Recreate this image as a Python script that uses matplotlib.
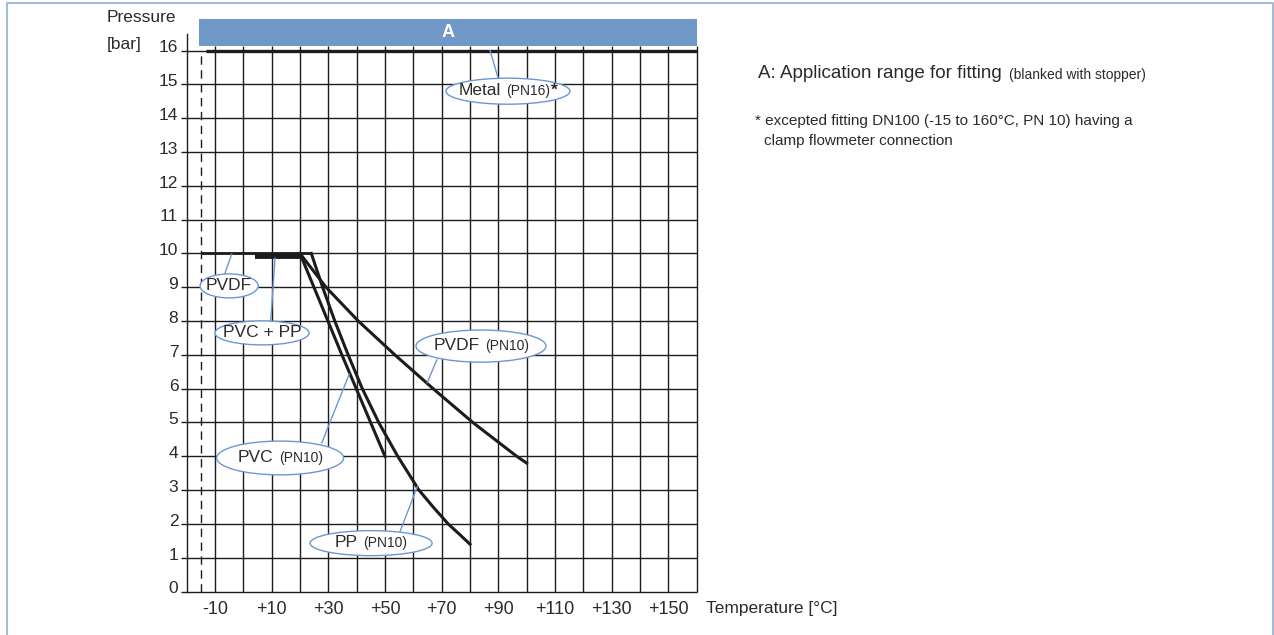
import numpy as np
import matplotlib
matplotlib.use("Agg")
import matplotlib.pyplot as plt
from matplotlib.patches import Ellipse, Rectangle
from matplotlib.offsetbox import TextArea, HPacker, AnnotationBbox
from matplotlib.lines import Line2D
from matplotlib.transforms import ScaledTranslation

plt.rcParams['font.family'] = ['Liberation Sans', 'DejaVu Sans']

# axis ticks
temp_ticks = [-10, 10, 30, 50, 70, 90, 110, 130, 150]
temp_tick_labels = ["-10", "+10", "+30", "+50", "+70", "+90", "+110", "+130", "+150"]
pressure_ticks = list(range(0, 17))
temp_grid = list(range(-10, 161, 10))

# curves (temperature degC, pressure bar)
pvdf_flat_t = [-15, 24]
pvdf_flat_p = [10, 10]
pvc_pp_flat_t = [4, 20]
pvc_pp_flat_p = [9.93, 9.93]
metal_t = [-13, 160]
metal_p = [16, 16]
pvc_t = [20, 34.8, 50]
pvc_p = [10, 7.0, 4.0]
pp_t = [24, 28, 32.3, 37, 42, 47.8, 54.5, 62, 67, 72.3, 76.2, 80]
pp_p = [10, 9, 8, 7, 6, 5, 4, 3, 2.5, 2, 1.7, 1.4]
pvdf_t = [20, 29.2, 40.6, 53.5, 67, 81, 96.5, 100]
pvdf_p = [10, 9, 8, 7, 6, 5, 4, 3.8]

# application range band A
band_t = [-15.5, 160]
band_p = [16.15, 16.93]

INK = "#1c1c1c"
TXT = "#2b2b2b"
BLUE = "#6b98cf"

fig = plt.figure(figsize=(12.74, 6.35), dpi=100)
ax = fig.add_axes([0.1465, 0.0685, 0.4003, 0.905])
ax.set_xlim(-20, 160)
ax.set_ylim(0, 17)

# grid
ax.vlines(temp_grid, 0, band_p[0], color=INK, lw=1.0, clip_on=False, zorder=1)
ax.hlines(pressure_ticks, -20, 160, color=INK, lw=1.0, clip_on=False, zorder=1)
ax.vlines([-15], 0, 16, color=INK, lw=1.0, linestyles=(0, (6, 4)), zorder=1)

for s in ['top', 'right', 'bottom']:
    ax.spines[s].set_visible(False)
ax.spines['left'].set_bounds(0, 16.5)
ax.spines['left'].set_color(INK)
ax.spines['left'].set_linewidth(1.0)

ax.set_yticks(pressure_ticks)
ax.set_yticklabels([str(p) for p in pressure_ticks])
ax.tick_params(axis='y', length=4, width=1.0, color=INK, pad=2, labelsize=12.5, labelcolor=TXT)
for lab in ax.get_yticklabels():
    lab.set_transform(lab.get_transform() + ScaledTranslation(0, 3 / 72, fig.dpi_scale_trans))
ax.set_xticks(temp_ticks)
ax.set_xticklabels(temp_tick_labels)
ax.tick_params(axis='x', length=0, pad=7, labelsize=13, labelcolor=TXT)

# band A
ax.add_patch(Rectangle((band_t[0], band_p[0]), band_t[1] - band_t[0], band_p[1] - band_p[0],
                       facecolor="#7199c7", edgecolor='none', clip_on=False, zorder=3))
ax.text(sum(band_t) / 2, sum(band_p) / 2, "A", color="white", fontsize=13, fontweight='bold',
        ha='center', va='center', clip_on=False, zorder=4)

# curves
line_kw = dict(color=INK, solid_joinstyle='round', zorder=3)
ax.plot(metal_t, metal_p, lw=2.4, solid_capstyle='butt', clip_on=False, **line_kw)
ax.plot(pvdf_flat_t, pvdf_flat_p, lw=2.0, solid_capstyle='butt', **line_kw)
ax.plot(pvc_pp_flat_t, pvc_pp_flat_p, lw=4.2, solid_capstyle='butt', **line_kw)
ax.plot(pvc_t, pvc_p, lw=2.2, **line_kw)
ax.plot(pp_t, pp_p, lw=2.2, **line_kw)
ax.plot(pvdf_t, pvdf_p, lw=2.2, **line_kw)


def txt(s, size=12.5, weight='normal'):
    return TextArea(s, textprops=dict(fontsize=size, color=TXT, fontweight=weight))


def label(xy, w, h, box, leader):
    ax.plot(leader[0], leader[1], color=BLUE, lw=1.0, zorder=5)
    ax.add_patch(Ellipse(xy, w, h, facecolor='white', edgecolor=BLUE, lw=1.0, zorder=6))
    ab = AnnotationBbox(box, xy, frameon=False, box_alignment=(0.5, 0.45), zorder=7)
    ax.add_artist(ab)


def pn(name, rating):
    return HPacker(children=[txt(name), txt(rating, 10)], align="baseline", pad=0, sep=4)


metal_box = HPacker(children=[txt("Metal"),
                              HPacker(children=[txt("(PN16)", 10), txt("*", 12.5, 'bold')],
                                      align="baseline", pad=0, sep=0)],
                    align="baseline", pad=0, sep=4)
label((93.4, 14.8), 43.8, 0.77, metal_box, ([87.1, 89.9], [16.0, 15.2]))
label((-5.0, 9.04), 20.5, 0.71, txt("PVDF"), ([-4.1, -6.5], [9.98, 9.41]))
label((6.6, 7.65), 33.2, 0.71, txt("PVC + PP"), ([11.2, 9.7], [9.86, 8.03]))
label((83.9, 7.26), 45.9, 0.95, pn("PVDF", "(PN10)"), ([68.3, 64.9], [6.85, 6.18]))
label((13.0, 3.95), 44.8, 1.0, pn("PVC", "(PN10)"), ([27.7, 37.4], [4.40, 6.43]))
label((45.1, 1.43), 43.1, 0.74, pn("PP", "(PN10)"), ([55.3, 61.4], [1.77, 3.10]))

# axis titles
fig.text(107 / 1274, 1 - 18 / 635, "Pressure", fontsize=12.5, color=TXT, ha='left', va='center')
fig.text(107 / 1274, 1 - 45 / 635, "[bar]", fontsize=12.5, color=TXT, ha='left', va='center')
fig.text(706 / 1274, 1 - 609 / 635, "Temperature [°C]", fontsize=12.5, color=TXT, ha='left', va='center')

# notes
note = HPacker(children=[txt("A: Application range for fitting", 13.5), txt("(blanked with stopper)", 10)],
               align="baseline", pad=0, sep=5)
fig.add_artist(AnnotationBbox(note, (758 / 1274, 1 - 74 / 635), xycoords='figure fraction',
                              frameon=False, box_alignment=(0, 0.5)))
fig.text(755 / 1274, 1 - 121 / 635, "* excepted fitting DN100 (-15 to 160°C, PN 10) having a",
         fontsize=11, color=TXT, ha='left', va='center')
fig.text(764 / 1274, 1 - 141 / 635, "clamp flowmeter connection", fontsize=11, color=TXT,
         ha='left', va='center')

# outer frame
fx = [7 / 1274, 7 / 1274, 1273 / 1274, 1273 / 1274]
fy = [0, 1 - 2.5 / 635, 1 - 2.5 / 635, 0]
fig.add_artist(Line2D(fx, fy, transform=fig.transFigure, color="#a3bcdc", lw=1.5))

fig.savefig("out.png", dpi=100)
